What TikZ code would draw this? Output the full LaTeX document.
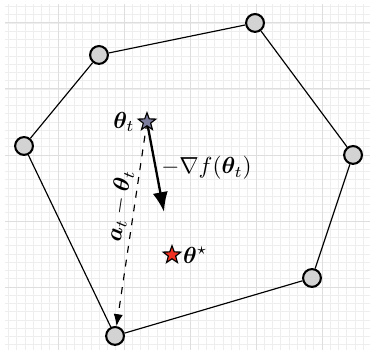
\documentclass[tikz,border=0pt]{standalone}
\usepackage{amsmath,bm}
\usetikzlibrary{shapes.geometric,arrows.meta,positioning}
\definecolor{minorgrid}{HTML}{EEEEEE}
\definecolor{majorgrid}{HTML}{DEDEDE}
\definecolor{vertexfill}{HTML}{D3D3D3}
\definecolor{iterfill}{HTML}{7C7C9C}
\definecolor{optfill}{HTML}{F03020}
\tikzset{
  vertex/.style={circle,draw=black,line width=0.9pt,fill=vertexfill,minimum size=0.27cm,inner sep=0pt},
  starnode/.style={star,star points=5,star point ratio=2.4,draw=black,line width=0.5pt,minimum size=0.28cm,inner sep=0pt},
  edge/.style={draw=black,line width=0.5pt},
  gradarrow/.style={line width=1pt,-{Latex[length=3mm,width=2.3mm]}},
  dirarrow/.style={line width=0.5pt,dashed,-{Latex[length=1.8mm,width=1.4mm]}},
  lbl/.style={inner sep=1pt}
}
\begin{document}
\begin{tikzpicture}[x=1cm,y=1cm]
\useasboundingbox (-0.879,-0.985) rectangle (4.727,4.348);
\draw[minorgrid,line width=0.35pt] (-0.80,-0.96) grid[step=0.125] (4.72,4.28);
\draw[majorgrid,line width=0.4pt] (-0.80,-0.96) grid[step=1] (4.72,4.28);
% vertices
\node[vertex] (A) at (0.621,3.515) {};
\node[vertex] (B) at (2.985,4.000) {};
\node[vertex] (C) at (4.470,2.000) {};
\node[vertex] (D) at (3.848,0.136) {};
\node[vertex] (E) at (0.864,-0.742) {};
\node[vertex] (F) at (-0.515,2.136) {};
\path[edge] (A) -- (B) (B) -- (C) (C) -- (D) (D) -- (E) (E) -- (F) (F) -- (A);
% iterate and arrows
\coordinate (ttc) at (1.348,2.500);
\coordinate (g) at (1.606,1.136);
\draw[dirarrow] (ttc) -- (E);
\draw[gradarrow] (ttc) -- (g);
\node[starnode,fill=iterfill] (tt) at (ttc) {};
\node[starnode,fill=optfill] (ts) at (1.727,0.485) {};
\node[lbl,left=1.5pt of tt] (ttl) {$\bm{\theta}_t$};
\node[lbl,right=1pt of ts] (tsl) {$\bm{\theta}^{\star}$};
\node[lbl] (gl) at (2.25,1.80) {$-\nabla f(\bm{\theta}_t)$};
\node[lbl,rotate=81.5] (dl) at (0.935,1.227) {$\bm{a}_t-\bm{\theta}_t$};
\end{tikzpicture}
\end{document}
